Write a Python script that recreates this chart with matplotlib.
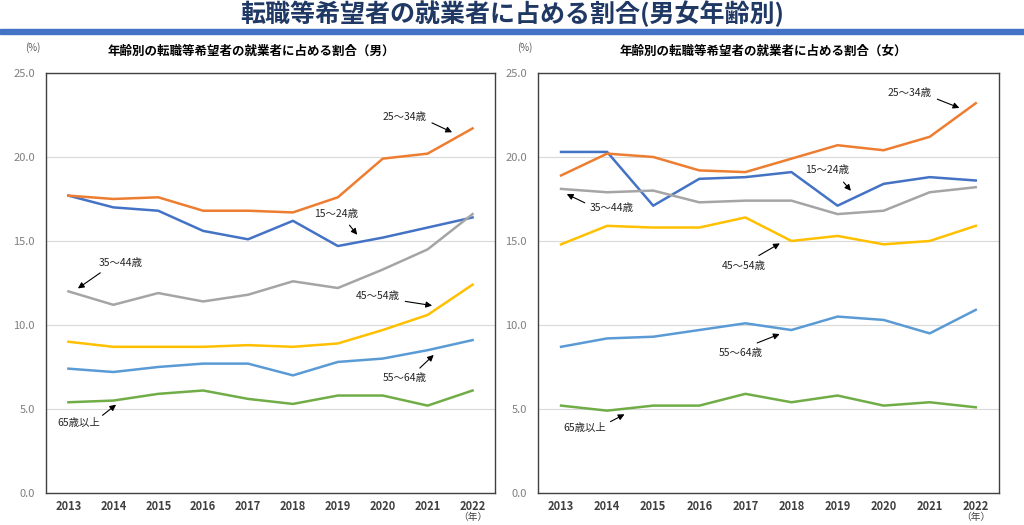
import matplotlib.pyplot as plt
from matplotlib.patches import Rectangle

plt.rcParams['font.family'] = ['Noto Sans CJK JP', 'DejaVu Sans']

years = [2013, 2014, 2015, 2016, 2017, 2018, 2019, 2020, 2021, 2022]
age_groups = ["15～24歳", "25～34歳", "35～44歳", "45～54歳", "55～64歳", "65歳以上"]

# 男
male_15_24 = [17.7, 17.0, 16.8, 15.6, 15.1, 16.2, 14.7, 15.2, 15.8, 16.4]
male_25_34 = [17.7, 17.5, 17.6, 16.8, 16.8, 16.7, 17.6, 19.9, 20.2, 21.7]
male_35_44 = [12.0, 11.2, 11.9, 11.4, 11.8, 12.6, 12.2, 13.3, 14.5, 16.6]
male_45_54 = [9.0, 8.7, 8.7, 8.7, 8.8, 8.7, 8.9, 9.7, 10.6, 12.4]
male_55_64 = [7.4, 7.2, 7.5, 7.7, 7.7, 7.0, 7.8, 8.0, 8.5, 9.1]
male_65_up = [5.4, 5.5, 5.9, 6.1, 5.6, 5.3, 5.8, 5.8, 5.2, 6.1]

# 女
female_15_24 = [20.3, 20.3, 17.1, 18.7, 18.8, 19.1, 17.1, 18.4, 18.8, 18.6]
female_25_34 = [18.9, 20.2, 20.0, 19.2, 19.1, 19.9, 20.7, 20.4, 21.2, 23.2]
female_35_44 = [18.1, 17.9, 18.0, 17.3, 17.4, 17.4, 16.6, 16.8, 17.9, 18.2]
female_45_54 = [14.8, 15.9, 15.8, 15.8, 16.4, 15.0, 15.3, 14.8, 15.0, 15.9]
female_55_64 = [8.7, 9.2, 9.3, 9.7, 10.1, 9.7, 10.5, 10.3, 9.5, 10.9]
female_65_up = [5.2, 4.9, 5.2, 5.2, 5.9, 5.4, 5.8, 5.2, 5.4, 5.1]

colors = ['#4472C4', '#ED7D31', '#A5A5A5', '#FFC000', '#5B9BD5', '#70AD47']

# label placement: (text x, text y, arrow start x, y, arrow end x, y)
male_notes = [
    (2018.96, 16.6, 2019.22, 16.07, 2019.47, 15.24),
    (2020.49, 22.4, 2021.04, 22.1, 2021.6, 21.4),
    (2014.16, 13.7, 2013.76, 13.2, 2013.16, 12.08),
    (2019.89, 11.73, 2020.44, 11.43, 2021.16, 11.13),
    (2020.49, 6.85, 2020.78, 7.32, 2021.18, 8.33),
    (2013.24, 4.17, 2013.71, 4.52, 2014.11, 5.36),
]
female_notes = [
    (2018.78, 19.2, 2019.09, 18.63, 2019.33, 17.86),
    (2020.57, 23.8, 2021.11, 23.5, 2021.7, 22.86),
    (2014.09, 16.96, 2013.57, 17.2, 2013.07, 17.86),
    (2016.96, 13.5, 2017.24, 14.05, 2017.8, 14.94),
    (2016.9, 8.33, 2017.2, 8.87, 2017.8, 9.52),
    (2013.52, 3.87, 2014.02, 4.17, 2014.43, 4.76),
]

fig = plt.figure(figsize=(10.24, 5.25), dpi=100)

# header
fig.text(0.5, 0.974, '転職等希望者の就業者に占める割合(男女年齢別)', ha='center', va='center',
         fontsize=18, fontweight='bold', color='#1F3864')
fig.patches.append(Rectangle((0, 0.935), 1, 0.009, transform=fig.transFigure,
                             color='#4472C4', zorder=0))


def draw_panel(ax, series, notes, subtitle, pct_x, sub_x):
    for vals, color in zip(series, colors):
        ax.plot(years, vals, color=color, linewidth=1.8, zorder=3)
    ax.set_xlim(2012.5, 2022.5)
    ax.set_ylim(0, 25)
    ax.set_yticks([0, 5, 10, 15, 20, 25])
    ax.set_yticklabels([f'{v:.1f}' for v in [0, 5, 10, 15, 20, 25]])
    ax.set_xticks(years)
    ax.set_xticklabels([str(y) for y in years], fontweight='bold')
    ax.tick_params(axis='y', length=0, labelsize=8, labelcolor='#7F7F7F', pad=8)
    ax.tick_params(axis='x', length=0, labelsize=8, labelcolor='#404040', pad=5)
    ax.grid(axis='y', color='#D9D9D9', linewidth=0.8)
    ax.set_axisbelow(True)
    for sp in ax.spines.values():
        sp.set_color('#404040')
        sp.set_linewidth(1.0)
    for label, (tx, ty, ax0, ay0, ax1, ay1) in zip(age_groups, notes):
        ax.text(tx, ty, label, ha='center', va='center', fontsize=7.5, color='#262626')
        ax.annotate('', xy=(ax1, ay1), xytext=(ax0, ay0),
                    arrowprops=dict(arrowstyle='-|>', color='black', lw=0.8,
                                    mutation_scale=9))
    ax.text(2022, -1.45, '（年）', ha='center', va='center', fontsize=7,
            color='#404040', clip_on=False)
    fig.text(pct_x, 0.91, '(%)', ha='center', va='center', fontsize=7, color='#595959')
    fig.text(sub_x, 0.903, subtitle, ha='center', va='center', fontsize=9, fontweight='bold')


ax1 = fig.add_axes([0.0449, 0.061, 0.4385, 0.800])
draw_panel(ax1, [male_15_24, male_25_34, male_35_44, male_45_54, male_55_64, male_65_up],
           male_notes, '年齢別の転職等希望者の就業者に占める割合（男）', 0.032, 0.245)

ax2 = fig.add_axes([0.5254, 0.061, 0.450, 0.800])
draw_panel(ax2, [female_15_24, female_25_34, female_35_44, female_45_54, female_55_64, female_65_up],
           female_notes, '年齢別の転職等希望者の就業者に占める割合（女）', 0.513, 0.745)

fig.savefig('out.png', dpi=100)
